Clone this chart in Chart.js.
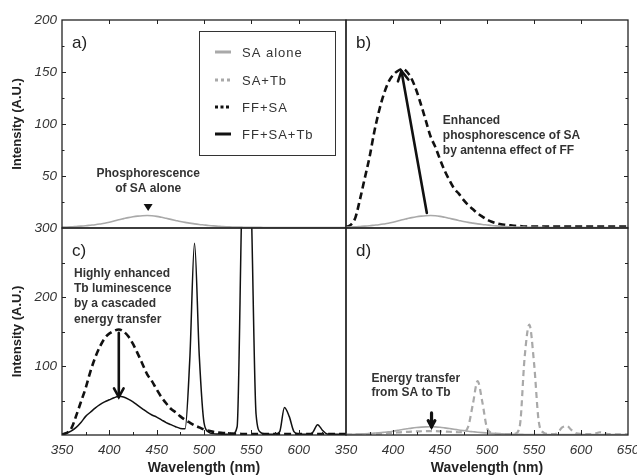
<!DOCTYPE html>
<html>
<head>
<meta charset="utf-8">
<script src="https://cdn.jsdelivr.net/npm/chart.js@4"></script>
<style>
  html, body { margin: 0; padding: 0; background: #fff; }
  #wrap { position: relative; width: 637px; height: 476px; overflow: hidden; background: #fff; }
  #wrap canvas { position: absolute; left: 0; top: 0; }
</style>
</head>
<body>
<div id="wrap">
  <canvas id="panel-a" width="637" height="476"></canvas>
  <canvas id="panel-b" width="637" height="476"></canvas>
  <canvas id="panel-c" width="637" height="476"></canvas>
  <canvas id="panel-d" width="637" height="476"></canvas>
</div>
<script>
// wavelength grid (nm)
const wavelength = [
  350, 355, 360, 365, 370, 375, 380, 385, 390, 395,
  400, 405, 410, 415, 420, 425, 430, 435, 440, 445,
  450, 455, 460, 465, 470, 475, 480, 485, 490, 495,
  500, 505, 510, 515, 520, 525, 530, 535, 540, 545,
  550, 555, 560, 565, 570, 575, 580, 585, 590, 595,
  600, 605, 610, 615, 620, 625, 630, 635, 640, 645,
  650
];

// intensities (A.U.)
const saAlone = [
  1, 1, 1.2, 1.5, 1.8, 2.2, 2.7, 3.2, 3.8, 4.5,
  5.5, 6.7, 8, 9, 10, 10.8, 11.4, 11.8, 12, 11.8,
  11.2, 10.3, 9.3, 8.3, 7.3, 6.3, 5.4, 4.7, 4, 3.4,
  2.9, 2.4, 2, 1.7, 1.4, 1.2, 1, 0.9, 0.8, 0.7,
  0.7, 0.6, 0.6, 0.5, 0.5, 0.5, 0.5, 0.5, 0.5, 0.5,
  0.5, 0.5, 0.5, 0.5, 0.5, 0.5, 0.5, 0.5, 0.5, 0.5,
  0.5
];
const saTb = [
  0.5, 0.6, 0.8, 1, 1.2, 1.5, 1.8, 2.1, 2.5, 2.9,
  3.3, 3.7, 4.1, 4.5, 4.9, 5.2, 5.4, 5.6, 5.6, 5.5,
  5.3, 5, 4.7, 4.3, 4, 4.5, 12, 45, 78, 48,
  10, 3, 1.8, 1.5, 1.3, 1.2, 2, 14, 112, 160,
  105, 20, 3.5, 1.5, 1.2, 3, 11, 13, 7, 2.5,
  1.5, 1.2, 1.2, 2, 4, 2.5, 1.2, 1, 1, 1,
  1
];
const ffSa = [
  1, 3, 10, 28, 48, 68, 92, 112, 128, 140,
  147, 151, 153, 150, 143, 132, 118, 103, 88, 78,
  66, 55, 46, 38, 33, 27, 22, 18, 14, 11,
  8, 6, 4.5, 3.5, 3, 2.5, 2, 1.8, 1.5, 1.5,
  1.5, 1.5, 1.5, 1.5, 1.5, 1.5, 1.5, 1.5, 1.5, 1.5,
  1.5, 1.5, 1.5, 1.5, 1.5, 1.5, 1.5, 1.5, 1.5, 1.5,
  1.5
];
const ffSaTb = [
  1.5, 3, 6, 11, 18, 27, 33, 39, 44, 48,
  51, 54, 56, 55, 52, 48, 43, 38, 33, 29,
  26, 22, 18, 15, 12, 9.5, 9, 110, 278, 115,
  18, 4, 2, 1.5, 1, 1, 1.5, 12, 340, 560,
  330, 30, 3.5, 1.5, 1, 1, 5, 40, 27, 5,
  1.5, 1, 1, 4, 15, 7, 1.5, 1, 1, 1,
  1
];

const legendLabels = ['SA alone', 'SA+Tb', 'FF+SA', 'FF+SA+Tb'];
const xTitle = 'Wavelength (nm)';
const yTitle = 'Intensity (A.U.)';
const noteA = ['Phosphorescence', 'of SA alone'];
const noteB = ['Enhanced', 'phosphorescence of SA', 'by antenna effect of FF'];
const noteC = ['Highly enhanced', 'Tb luminescence', 'by a cascaded', 'energy transfer'];
const noteD = ['Energy transfer', 'from SA to Tb'];

const W = 637, H = 476;
const FONT = '"Liberation Sans", Arial, sans-serif';
const GRAY = '#a9a9a9';

const styles = {
  'SA alone': { borderColor: GRAY, borderWidth: 1.6 },
  'SA+Tb': { borderColor: GRAY, borderWidth: 2.2, borderDash: [6, 4] },
  'FF+SA': { borderColor: '#111', borderWidth: 2.6, borderDash: [7, 4] },
  'FF+SA+Tb': { borderColor: '#111', borderWidth: 1.5 }
};
const legendDash = { 'SA alone': [], 'SA+Tb': [3, 3], 'FF+SA': [3, 2.5], 'FF+SA+Tb': [] };

function lineData(values) {
  return wavelength.map((w, i) => ({ x: w, y: values[i] }));
}

function tickMarks(chart, side, step, majorEvery, majLen, minLen) {
  const { ctx, chartArea: ca, scales } = chart;
  const horiz = side === 'top' || side === 'bottom';
  const sc = horiz ? scales.x : scales.y;
  ctx.save();
  ctx.strokeStyle = '#222';
  ctx.lineWidth = 1;
  ctx.beginPath();
  for (let v = sc.min + step; v < sc.max; v += step) {
    const len = (Math.round(v) % majorEvery === 0) ? majLen : minLen;
    const p = Math.round(sc.getPixelForValue(v)) + 0.5;
    if (side === 'top') { ctx.moveTo(p, ca.top); ctx.lineTo(p, ca.top + len); }
    if (side === 'bottom') { ctx.moveTo(p, ca.bottom); ctx.lineTo(p, ca.bottom - len); }
    if (side === 'left') { ctx.moveTo(ca.left, p); ctx.lineTo(ca.left + len, p); }
    if (side === 'right') { ctx.moveTo(ca.right, p); ctx.lineTo(ca.right - len, p); }
  }
  ctx.stroke();
  ctx.restore();
}

function frame(chart, label) {
  const { ctx, chartArea: ca } = chart;
  ctx.save();
  ctx.strokeStyle = '#222';
  ctx.lineWidth = 1.3;
  ctx.strokeRect(ca.left, ca.top, ca.right - ca.left, ca.bottom - ca.top);
  ctx.fillStyle = '#222';
  ctx.font = '17px ' + FONT;
  ctx.textBaseline = 'middle';
  ctx.textAlign = 'left';
  ctx.fillText(label, ca.left + 10, ca.top + 23);
  ctx.restore();
}

function textLines(chart, lines, xv, yv, gap, align) {
  const { ctx, scales: { x, y } } = chart;
  ctx.save();
  ctx.font = 'bold 12px ' + FONT;
  ctx.fillStyle = '#333';
  ctx.textAlign = align;
  ctx.textBaseline = 'middle';
  const px = x.getPixelForValue(xv), py = y.getPixelForValue(yv);
  lines.forEach((t, i) => ctx.fillText(t, px, py + i * gap));
  ctx.restore();
}

function arrow(chart, x1v, y1v, x2v, y2v, lw, head) {
  const { ctx, scales: { x, y } } = chart;
  const x1 = x.getPixelForValue(x1v), y1 = y.getPixelForValue(y1v);
  const x2 = x.getPixelForValue(x2v), y2 = y.getPixelForValue(y2v);
  const ang = Math.atan2(y2 - y1, x2 - x1);
  ctx.save();
  ctx.strokeStyle = '#111';
  ctx.lineWidth = lw;
  ctx.lineCap = 'round';
  ctx.lineJoin = 'miter';
  ctx.beginPath();
  ctx.moveTo(x1, y1);
  ctx.lineTo(x2, y2);
  ctx.stroke();
  ctx.beginPath();
  ctx.moveTo(x2 - head * Math.cos(ang - 0.5), y2 - head * Math.sin(ang - 0.5));
  ctx.lineTo(x2, y2);
  ctx.lineTo(x2 - head * Math.cos(ang + 0.5), y2 - head * Math.sin(ang + 0.5));
  ctx.stroke();
  ctx.restore();
}

function legendBox(chart) {
  const ctx = chart.ctx;
  ctx.save();
  ctx.strokeStyle = '#333';
  ctx.lineWidth = 1;
  ctx.strokeRect(199.5, 31.5, 136, 124);
  ctx.font = '13px ' + FONT;
  ctx.fillStyle = '#333';
  ctx.textBaseline = 'middle';
  ctx.textAlign = 'left';
  if ('letterSpacing' in ctx) ctx.letterSpacing = '1px';
  const rows = [52, 80, 107, 134];
  legendLabels.forEach((name, i) => {
    const s = styles[name];
    ctx.strokeStyle = s.borderColor;
    ctx.lineWidth = 3;
    ctx.setLineDash(legendDash[name]);
    ctx.beginPath();
    ctx.moveTo(215, rows[i]);
    ctx.lineTo(231, rows[i]);
    ctx.stroke();
    ctx.fillText(name, 242, rows[i] + 1);
  });
  ctx.restore();
}

function panel(id, cfg) {
  const a = cfg.area;
  const tickFont = { family: FONT, size: 13.5, style: 'italic' };
  return new Chart(document.getElementById(id), {
    type: 'line',
    data: {
      datasets: cfg.series.map(s => Object.assign({
        label: s.name,
        data: lineData(s.values),
        pointRadius: 0,
        fill: false,
        cubicInterpolationMode: 'monotone'
      }, styles[s.name]))
    },
    options: {
      responsive: false,
      animation: false,
      devicePixelRatio: 1,
      events: [],
      layout: {
        padding: {
          left: cfg.yAxis ? 0 : a.l,
          right: W - a.r,
          top: a.t,
          bottom: cfg.xAxis ? 0 : H - a.b
        }
      },
      plugins: { legend: { display: false }, tooltip: { enabled: false } },
      scales: {
        x: {
          type: 'linear',
          min: 350,
          max: 650,
          display: cfg.xAxis,
          afterFit: s => {
            if (!cfg.xAxis) return;
            s.height = H - a.b; s.paddingLeft = 0; s.paddingRight = 0;
          },
          grid: { display: false, drawTicks: false },
          border: { display: false },
          ticks: {
            stepSize: 50,
            autoSkip: false,
            maxRotation: 0,
            padding: 7,
            color: '#333',
            font: tickFont,
            callback: v => (v > cfg.xLabelMax ? '' : v)
          },
          title: {
            display: true,
            text: xTitle,
            color: '#222',
            font: { family: FONT, size: 14, weight: 'bold' },
            padding: { top: 2, bottom: -1 }
          }
        },
        y: {
          type: 'linear',
          min: 0,
          max: cfg.yMax,
          display: cfg.yAxis,
          afterFit: s => {
            if (!cfg.yAxis) return;
            s.width = a.l; s.paddingTop = 0; s.paddingBottom = 0;
          },
          grid: { display: false, drawTicks: false },
          border: { display: false },
          ticks: {
            stepSize: cfg.yStep,
            padding: 5,
            color: '#333',
            font: tickFont,
            callback: v => (v === 0 ? '' : v)
          },
          title: {
            display: true,
            text: yTitle,
            color: '#222',
            font: { family: FONT, size: 13, weight: 'bold' },
            padding: { top: 10, bottom: 0 }
          }
        }
      }
    },
    plugins: [{
      id: 'panelDecor',
      afterDatasetsDraw: chart => {
        frame(chart, cfg.label);
        cfg.ticks.forEach(t => tickMarks(chart, ...t));
        if (cfg.decorate) cfg.decorate(chart);
      }
    }]
  });
}

const L = 62, MX = 346, R = 628, T = 20, MY = 228, B = 435;

// a) SA alone
panel('panel-a', {
  label: 'a)',
  area: { l: L, r: MX, t: T, b: MY },
  yAxis: true, xAxis: false, yMax: 200, yStep: 50, xLabelMax: 650,
  series: [{ name: 'SA alone', values: saAlone }],
  ticks: [['top', 50, 50, 4, 4], ['left', 25, 50, 4, 2.5]],
  decorate: chart => {
    textLines(chart, noteA, 441, 52, 15, 'center');
    const { ctx, scales: { x, y } } = chart;
    const px = x.getPixelForValue(441), top = y.getPixelForValue(23), tip = y.getPixelForValue(16.3);
    ctx.save();
    ctx.fillStyle = '#111';
    ctx.beginPath();
    ctx.moveTo(px - 4.5, top);
    ctx.lineTo(px + 4.5, top);
    ctx.lineTo(px, tip);
    ctx.closePath();
    ctx.fill();
    ctx.restore();
    legendBox(chart);
  }
});

// b) SA alone vs FF+SA
panel('panel-b', {
  label: 'b)',
  area: { l: MX, r: R, t: T, b: MY },
  yAxis: false, xAxis: false, yMax: 200, yStep: 50, xLabelMax: 650,
  series: [{ name: 'SA alone', values: saAlone }, { name: 'FF+SA', values: ffSa }],
  ticks: [['top', 50, 50, 4, 4], ['right', 25, 50, 4, 2.5]],
  decorate: chart => {
    arrow(chart, 436, 14.5, 409, 151, 2.6, 11);
    textLines(chart, noteB, 453, 103.3, 15, 'left');
  }
});

// c) FF+SA vs FF+SA+Tb
panel('panel-c', {
  label: 'c)',
  area: { l: L, r: MX, t: MY, b: B },
  yAxis: true, xAxis: true, yMax: 300, yStep: 100, xLabelMax: 600,
  series: [{ name: 'FF+SA', values: ffSa }, { name: 'FF+SA+Tb', values: ffSaTb }],
  ticks: [['bottom', 25, 50, 5, 3], ['left', 50, 100, 4, 3]],
  decorate: chart => {
    arrow(chart, 410, 148, 410, 55, 2.6, 10);
    textLines(chart, noteC, 362.7, 234, 15.3, 'left');
  }
});

// d) SA alone vs SA+Tb
panel('panel-d', {
  label: 'd)',
  area: { l: MX, r: R, t: MY, b: B },
  yAxis: false, xAxis: true, yMax: 300, yStep: 100, xLabelMax: 650,
  series: [{ name: 'SA alone', values: saAlone }, { name: 'SA+Tb', values: saTb }],
  ticks: [['bottom', 25, 50, 5, 3], ['right', 50, 100, 4, 3]],
  decorate: chart => {
    arrow(chart, 441, 32, 441, 12, 3.2, 7);
    textLines(chart, noteD, 377, 82, 14.5, 'left');
  }
});
</script>
</body>
</html>
